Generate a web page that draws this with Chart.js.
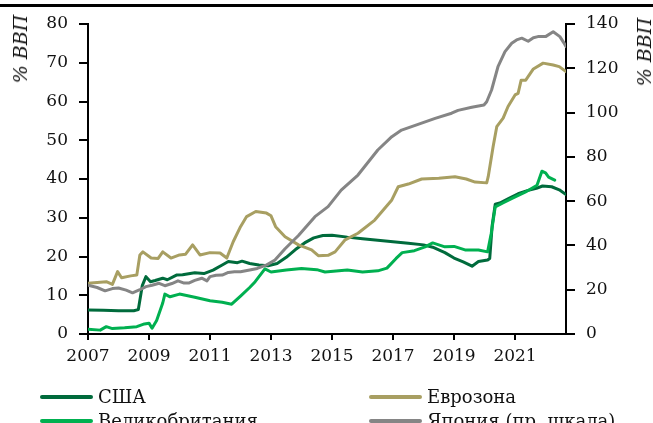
<!DOCTYPE html>
<html>
<head>
<meta charset="utf-8">
<script src="https://cdn.jsdelivr.net/npm/chart.js@4"></script>
<style>
    html, body { margin: 0; padding: 0; background: #fff; overflow: hidden; }
    #wrap { position: relative; width: 653px; height: 423px; overflow: hidden; font-family: 'DejaVu Serif', serif; }
    #topRule { position: absolute; left: 0; top: 4px; width: 653px; height: 3px; background: #000; }
    .axisTitle { position: absolute; font-style: italic; font-size: 19px; color: #111; white-space: nowrap;
        transform: translate(-50%, -50%) rotate(-90deg); }
    .legItem { position: absolute; font-size: 18px; color: #111; white-space: nowrap; line-height: 20px; }
    .legItem span.sw { position: absolute; top: 8px; height: 4px; width: 53px; border-radius: 2px; }
</style>
</head>
<body>
<div id="wrap">
    <canvas id="chart" width="653" height="423"></canvas>
    <div id="topRule"></div>
    <div class="axisTitle" style="left:20px; top:49px;">% ВВП</div>
    <div class="axisTitle" style="left:644px; top:52px;">% ВВП</div>
    <div id="legend"></div>
</div>
<script>
    // --- data (x = decimal year) ---
    const usYears = [2007.0, 2007.5, 2008.0, 2008.5, 2008.65, 2008.78, 2008.9, 2009.05, 2009.2, 2009.45, 2009.6, 2009.9, 2010.1, 2010.5, 2010.8, 2011.1, 2011.4, 2011.6, 2011.9, 2012.05, 2012.3, 2012.6, 2012.9, 2013.2, 2013.5, 2013.8, 2014.1, 2014.4, 2014.7, 2015.0, 2015.5, 2016.0, 2016.5, 2017.0, 2017.5, 2018.0, 2018.3, 2018.7, 2019.0, 2019.3, 2019.59, 2019.8, 2020.1, 2020.17, 2020.25, 2020.35, 2020.5, 2020.8, 2021.1, 2021.4, 2021.7, 2021.9, 2022.2, 2022.45, 2022.67];
    const usValues = [6.2, 6.1, 6.0, 6.0, 6.3, 12.5, 14.8, 13.5, 13.8, 14.4, 14.0, 15.2, 15.3, 15.8, 15.6, 16.5, 17.8, 18.7, 18.4, 18.8, 18.2, 17.8, 17.6, 18.2, 19.8, 21.8, 23.5, 24.8, 25.4, 25.5, 25.0, 24.6, 24.2, 23.8, 23.4, 23.0, 22.4, 21.0, 19.6, 18.6, 17.5, 18.7, 19.1, 19.5, 28.0, 33.5, 33.8, 35.0, 36.2, 37.0, 37.6, 38.2, 38.0, 37.2, 36.0];

    const ezYears = [2007.0, 2007.3, 2007.6, 2007.8, 2007.97, 2008.1, 2008.4, 2008.6, 2008.7, 2008.8, 2009.07, 2009.3, 2009.45, 2009.72, 2010.0, 2010.2, 2010.43, 2010.67, 2011.0, 2011.33, 2011.55, 2011.76, 2012.0, 2012.2, 2012.5, 2012.85, 2013.0, 2013.15, 2013.46, 2013.9, 2014.33, 2014.55, 2014.87, 2015.1, 2015.43, 2015.85, 2016.4, 2016.96, 2017.17, 2017.5, 2017.94, 2018.5, 2019.03, 2019.4, 2019.69, 2020.07, 2020.12, 2020.28, 2020.4, 2020.61, 2020.77, 2021.0, 2021.1, 2021.2, 2021.35, 2021.6, 2021.92, 2022.25, 2022.45, 2022.67];
    const ezValues = [13.1, 13.3, 13.5, 12.8, 16.1, 14.5, 15.0, 15.2, 20.4, 21.2, 19.6, 19.5, 21.2, 19.6, 20.4, 20.6, 23.0, 20.4, 21.0, 20.9, 19.6, 23.8, 27.7, 30.3, 31.6, 31.2, 30.5, 27.7, 25.1, 23.0, 21.7, 20.2, 20.3, 21.2, 24.3, 26.0, 29.4, 34.6, 38.0, 38.7, 40.0, 40.2, 40.6, 40.0, 39.2, 39.0, 40.6, 48.3, 53.5, 55.7, 58.7, 61.7, 62.1, 65.5, 65.5, 68.4, 69.9, 69.4, 69.0, 67.7];

    const ukYears = [2007.0, 2007.4, 2007.6, 2007.8, 2008.2, 2008.6, 2008.85, 2009.0, 2009.1, 2009.25, 2009.45, 2009.52, 2009.69, 2010.0, 2010.5, 2011.0, 2011.4, 2011.71, 2012.0, 2012.3, 2012.48, 2012.8, 2013.0, 2013.5, 2014.0, 2014.5, 2014.77, 2015.5, 2016.0, 2016.5, 2016.8, 2017.1, 2017.3, 2017.7, 2018.05, 2018.3, 2018.7, 2019.0, 2019.36, 2019.8, 2020.1, 2020.22, 2020.35, 2020.6, 2020.9, 2021.33, 2021.72, 2021.88, 2022.0, 2022.1, 2022.3];
    const ukValues = [1.2, 1.0, 1.9, 1.4, 1.6, 1.9, 2.6, 2.8, 1.5, 3.5, 8.0, 10.3, 9.6, 10.3, 9.5, 8.6, 8.2, 7.7, 9.8, 12.0, 13.5, 16.8, 16.0, 16.5, 16.9, 16.6, 16.0, 16.5, 16.0, 16.3, 17.0, 19.5, 21.0, 21.5, 22.5, 23.5, 22.5, 22.6, 21.7, 21.7, 21.2, 26.0, 32.8, 33.8, 35.0, 36.6, 38.4, 42.0, 41.6, 40.5, 39.7];

    const jpYears = [2007.0, 2007.3, 2007.56, 2007.8, 2008.0, 2008.25, 2008.46, 2008.7, 2008.9, 2009.1, 2009.33, 2009.52, 2009.75, 2009.95, 2010.15, 2010.3, 2010.5, 2010.73, 2010.9, 2011.0, 2011.2, 2011.4, 2011.6, 2011.8, 2012.0, 2012.3, 2012.55, 2012.86, 2013.13, 2013.46, 2013.9, 2014.44, 2014.87, 2015.3, 2015.85, 2016.5, 2016.96, 2017.28, 2017.82, 2018.38, 2018.92, 2019.13, 2019.58, 2019.98, 2020.07, 2020.23, 2020.44, 2020.67, 2020.89, 2021.05, 2021.22, 2021.43, 2021.6, 2021.75, 2022.0, 2022.25, 2022.47, 2022.6, 2022.67];
    const jpValues = [22.0, 21.0, 19.5, 20.5, 20.8, 19.8, 18.6, 20.0, 21.4, 22.0, 22.9, 21.8, 22.8, 24.0, 23.0, 23.0, 24.2, 25.2, 24.0, 25.9, 26.5, 26.6, 27.8, 28.1, 28.1, 28.9, 29.6, 31.2, 33.4, 38.5, 44.5, 53.0, 57.5, 65.0, 71.8, 83.1, 89.1, 92.1, 94.7, 97.4, 99.7, 101.0, 102.4, 103.4, 104.9, 110.2, 120.7, 127.5, 131.3, 132.8, 133.6, 132.2, 133.8, 134.3, 134.3, 136.5, 134.3, 131.5, 129.8];

    const seriesNames = ['США', 'Еврозона', 'Великобритания', 'Япония (пр. шкала)'];
    const seriesColors = ['#006b3c', '#a89f62', '#00b050', '#858585'];
    const xTicks = [2007, 2009, 2011, 2013, 2015, 2017, 2019, 2021];
    const leftTicks = [0, 10, 20, 30, 40, 50, 60, 70, 80];
    const rightTicks = [0, 20, 40, 60, 80, 100, 120, 140];

    const toPoints = (xs, ys) => xs.map((x, i) => ({ x: x, y: ys[i] }));

    const font = { family: "'DejaVu Serif', serif", size: 17 };
    const tickGrid = { drawOnChartArea: false, drawTicks: true, tickLength: 9, color: '#000', lineWidth: 2 };

    new Chart(document.getElementById('chart'), {
        type: 'line',
        data: {
            datasets: [
                { label: seriesNames[0], data: toPoints(usYears, usValues), borderColor: seriesColors[0], yAxisID: 'y', order: 4 },
                { label: seriesNames[1], data: toPoints(ezYears, ezValues), borderColor: seriesColors[1], yAxisID: 'y', order: 3 },
                { label: seriesNames[2], data: toPoints(ukYears, ukValues), borderColor: seriesColors[2], yAxisID: 'y', order: 2 },
                { label: seriesNames[3], data: toPoints(jpYears, jpValues), borderColor: seriesColors[3], yAxisID: 'y2', order: 1 }
            ]
        },
        options: {
            responsive: false,
            animation: false,
            layout: { padding: { top: 24, left: 0, right: 0, bottom: 0 } },
            elements: {
                line: { borderWidth: 3, tension: 0, borderCapStyle: 'round', borderJoinStyle: 'round' },
                point: { radius: 0 }
            },
            plugins: { legend: { display: false }, tooltip: { enabled: false } },
            scales: {
                x: {
                    type: 'linear',
                    min: 2007,
                    max: 2022.67,
                    afterBuildTicks: s => { s.ticks = xTicks.map(v => ({ value: v })); },
                    afterFit: s => { s.height = 89; },
                    grid: { ...tickGrid, tickLength: 6 },
                    border: { color: '#000', width: 2 },
                    ticks: { font: font, color: '#111', padding: 6, maxRotation: 0, callback: v => String(v) }
                },
                y: {
                    position: 'left',
                    min: 0,
                    max: 80,
                    afterBuildTicks: s => { s.ticks = leftTicks.map(v => ({ value: v })); },
                    afterFit: s => { s.width = 88; },
                    grid: tickGrid,
                    border: { color: '#000', width: 2 },
                    ticks: { font: font, color: '#111', padding: 11 }
                },
                y2: {
                    position: 'right',
                    min: 0,
                    max: 140,
                    afterBuildTicks: s => { s.ticks = rightTicks.map(v => ({ value: v })); },
                    afterFit: s => { s.width = 87; },
                    grid: tickGrid,
                    border: { color: '#000', width: 2 },
                    ticks: { font: font, color: '#111', padding: 11 }
                }
            }
        }
    });

    // HTML legend, two columns
    const legendPos = [
        { left: 40, top: 387 }, { left: 369, top: 387 },
        { left: 40, top: 411 }, { left: 369, top: 411 }
    ];
    const legendOrder = [0, 1, 2, 3];
    const legend = document.getElementById('legend');
    legendOrder.forEach((idx, i) => {
        const item = document.createElement('div');
        item.className = 'legItem';
        item.style.left = legendPos[i].left + 'px';
        item.style.top = legendPos[i].top + 'px';
        item.style.paddingLeft = '58px';
        item.innerHTML = '<span class="sw" style="left:0;background:' + seriesColors[idx] + '"></span>' + seriesNames[idx];
        legend.appendChild(item);
    });
</script>
</body>
</html>
